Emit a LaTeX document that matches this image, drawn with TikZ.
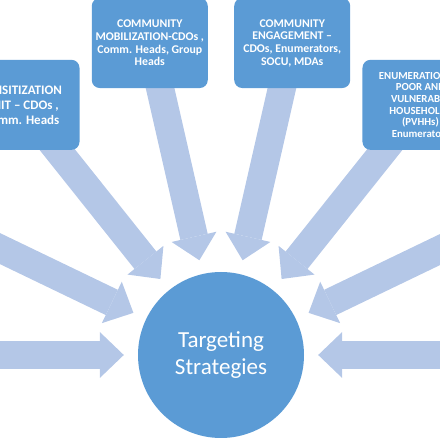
\documentclass[tikz,border=0pt]{standalone}
\usepackage{fontspec}
\setmainfont{Carlito}
\usetikzlibrary{arrows.meta,calc,backgrounds}
\definecolor{blue1}{HTML}{5B9BD5}
\definecolor{blue2}{HTML}{B4C7E7}
\tikzset{
  stage/.style={fill=blue1,rounded corners=8pt,minimum width=116pt,minimum height=90pt,align=center,text=white,inner sep=0pt,font=\bfseries\fontsize{11.8}{12.7}\selectfont},
  feed/.style={draw=blue2,line width=28pt,-{Triangle[length=24pt,width=46pt,line width=0pt]},shorten >=14pt}
}
\begin{document}
\begin{tikzpicture}[x=1pt,y=1pt]
\useasboundingbox (0,0) rectangle (440,440);
\node[circle,fill=blue1,minimum size=166pt,text=white,align=center,font=\fontsize{23}{26.5}\selectfont] (target) at (221,85) {Targeting\\Strategies};
\node[stage] (cmob) at ($(target)+(102.86:320)$) {COMMUNITY\\MOBILIZATION-CDOs ,\\Comm. Heads, Group\\Heads};
\node[stage] (ceng) at ($(target)+(77.14:320)$) {COMMUNITY\\ENGAGEMENT --\\CDOs, Enumerators,\\SOCU, MDAs};
\node[stage,font=\bfseries\fontsize{13}{15}\selectfont] (sens) at ($(target)+(128.57:320)$) {SENSITIZATION\\UNIT -- CDOs ,\\Comm. Heads};
\node[stage,font=\bfseries\fontsize{10.8}{11.6}\selectfont] (enum) at ($(target)+(51.43:320)$) {ENUMERATION OF\\POOR AND\\VULNERABLE\\HOUSEHOLDS\\(PVHHs)\\Enumerators};
\coordinate (west) at ($(target)+(180:320)$);
\coordinate (wnw) at ($(target)+(154.29:320)$);
\coordinate (ene) at ($(target)+(25.71:320)$);
\coordinate (east) at ($(target)+(0:320)$);
\begin{scope}[on background layer]
\foreach \from in {west,wnw,sens,cmob,ceng,enum,ene,east}
  \draw[feed] (\from.center) -- (target);
\end{scope}
\end{tikzpicture}
\end{document}
